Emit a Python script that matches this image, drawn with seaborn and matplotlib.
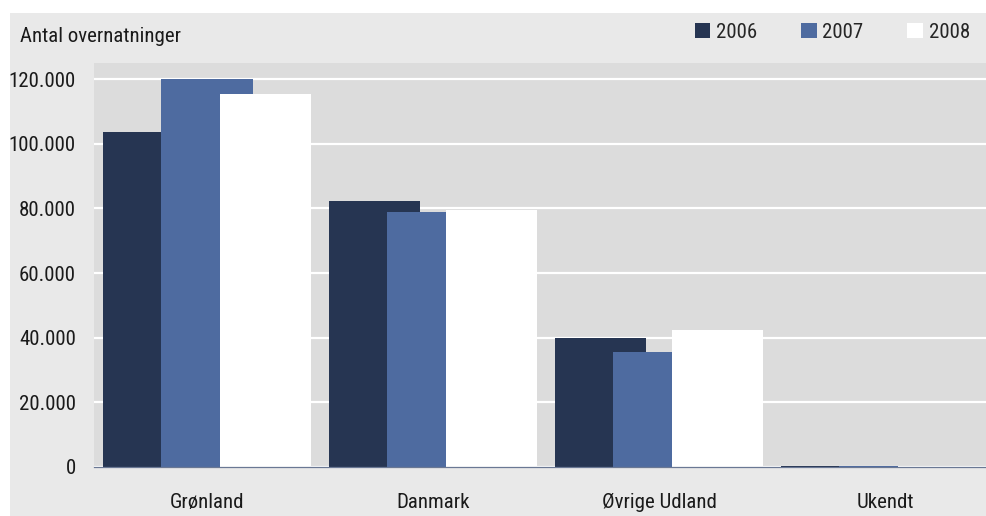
import numpy as np
import matplotlib
matplotlib.use("Agg")
import matplotlib.pyplot as plt
from matplotlib import font_manager
from matplotlib.patches import Rectangle, Patch
from matplotlib.ticker import FuncFormatter
import seaborn as sns

# Data
categories = ["Grønland", "Danmark", "Øvrige Udland", "Ukendt"]
years = ["2006", "2007", "2008"]
v2006 = [103600, 82300, 39900, 400]
v2007 = [120000, 78900, 35600, 350]
v2008 = [115400, 79600, 42400, 300]

colors = {"2006": "#263552", "2007": "#4e6ba0", "2008": "#ffffff"}
PANEL = "#e9e9e9"
PLOT_BG = "#dcdcdc"

sns.set_theme(style="white")

# prefer a narrow face if one is around, otherwise Liberation Sans a bit smaller
installed = {f.name for f in font_manager.fontManager.ttflist}
narrow = [n for n in ["Liberation Sans Narrow", "Roboto Condensed", "Open Sans Condensed"]
          if n in installed]
if narrow:
    plt.rcParams["font.family"] = [narrow[0], "DejaVu Sans"]
    FS = 15
else:
    plt.rcParams["font.family"] = ["Liberation Sans", "DejaVu Sans"]
    FS = 13.5

W, H = 986, 516
fig = plt.figure(figsize=(W / 100, H / 100), dpi=100, facecolor="white")

# light grey panel behind everything
fig.patches.append(Rectangle((10 / W, 0), 1, 1 - 13 / H, transform=fig.transFigure,
                             facecolor=PANEL, edgecolor="none", zorder=-10))

ax = fig.add_axes([94 / W, (H - 467) / H, 904 / W, (467 - 63) / H])
ax.set_facecolor(PLOT_BG)

xpos = np.arange(len(categories))
step = 0.259
width = 0.403
for i, (yr, vals) in enumerate(zip(years, [v2006, v2007, v2008])):
    sns.barplot(x=xpos + (i - 1) * step, y=vals, native_scale=True, width=width,
                color=colors[yr], saturation=1, linewidth=0, errorbar=None, ax=ax)

ax.set_xlim(-0.5, 3.5)
ax.set_ylim(0, 125000)
ax.set_yticks(np.arange(0, 120001, 20000))
ax.yaxis.set_major_formatter(FuncFormatter(lambda v, p: f"{int(v):,}".replace(",", ".")))
ax.set_xticks(xpos)
ax.set_xticklabels(categories)
ax.tick_params(axis="y", length=0, pad=13, labelsize=FS, labelcolor="#1a1a1a")
ax.tick_params(axis="x", length=0, pad=19, labelsize=FS, labelcolor="#1a1a1a")
ax.set_xlabel("")
ax.set_ylabel("")

ax.set_axisbelow(True)
ax.yaxis.grid(True, color="white", linewidth=1.6)
ax.xaxis.grid(False)
for s in ["top", "right", "left"]:
    ax.spines[s].set_visible(False)
ax.spines["bottom"].set_color("#6a7894")
ax.spines["bottom"].set_linewidth(0.9)

fig.text(20 / W, 1 - 42 / H, "Antal overnatninger", fontsize=FS, color="#1a1a1a",
         va="baseline", ha="left")

handles = [Patch(facecolor=colors[y], edgecolor="none") for y in years]
fig.legend(handles, years, ncol=3, loc="center right",
           bbox_to_anchor=(970 / W, 1 - 32 / H), frameon=False, fontsize=FS,
           handlelength=0.75, handleheight=0.75, handletextpad=0.28,
           columnspacing=2.1, borderpad=0, borderaxespad=0)

fig.savefig("out.png", dpi=100)
